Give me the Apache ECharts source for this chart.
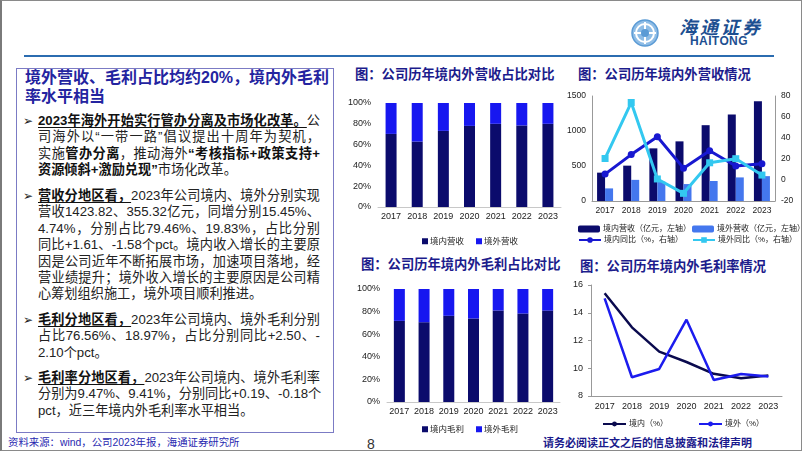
<!DOCTYPE html>
<html><head><meta charset="utf-8">
<script src="https://cdn.jsdelivr.net/npm/echarts/dist/echarts.min.js"></script>
<style>
html,body{margin:0;padding:0;background:#fff;}
#page{position:relative;width:802px;height:452px;overflow:hidden;font-family:"Liberation Sans","Noto Sans CJK SC",sans-serif;color:#222;}
#frame{position:absolute;left:0;top:0;width:799px;height:449px;border:1px solid #8a8a8a;border-left:2px solid #7a7a7a;}
.abs{position:absolute;white-space:nowrap;}
.ln{position:absolute;left:38px;font-size:13.2px;line-height:16px;height:16px;white-space:nowrap;color:#222;}
.j{width:282px;text-align:justify;text-align-last:justify;}
.bu{position:absolute;left:23px;font-size:12px;line-height:16px;font-family:"DejaVu Sans",sans-serif;color:#222;}
b{font-weight:bold;color:#111;}
.u{text-decoration:underline;text-underline-offset:2px;}
.ttl{position:absolute;font-size:13.3px;font-weight:bold;color:#1c1c8c;white-space:nowrap;line-height:16px;}
.chart{position:absolute;}
</style></head>
<body><div id="page">
<div id="frame"></div>
<!-- header -->
<svg class="abs" style="left:630px;top:18px" width="30" height="30" viewBox="0 0 30 30">
  <circle cx="15" cy="15" r="13" fill="#8fbde6" stroke="#5b9bd5" stroke-width="1.5"/>
  <circle cx="15" cy="15" r="9" fill="none" stroke="#ffffff" stroke-width="2"/>
  <path d="M15 4 V26 M4 15 H26" stroke="#ffffff" stroke-width="2"/>
  <circle cx="15" cy="15" r="4" fill="#5b9bd5"/>
</svg>
<div class="abs" style="left:679px;top:17px;font-size:18px;font-weight:bold;font-style:italic;color:#1d4f91;letter-spacing:3px;line-height:22px">海通证券</div>
<div class="abs" style="left:690px;top:35px;font-size:12px;font-weight:bold;color:#1d4f91;letter-spacing:0.4px;line-height:13px">HAITONG</div>
<div class="abs" style="left:24px;top:55px;width:750px;height:2px;background:#2b6cb0"></div>

<!-- left panel -->
<div class="abs" style="left:16px;top:68px;width:316px;height:363px;border:1px solid #7b7bc4"></div>
<div class="abs" style="left:25px;top:68px;width:293px;font-size:16px;font-weight:bold;color:#2424a0;line-height:20px;text-align:justify;text-align-last:justify">境外营收、毛利占比均约20%，境内外毛利</div>
<div class="abs" style="left:25px;top:87px;font-size:16px;font-weight:bold;color:#2424a0;line-height:20px">率水平相当</div>
<div id="txt"></div>

<!-- chart titles -->
<div class="ttl" style="left:355px;top:67px">图：公司历年境内外营收占比对比</div>
<div class="ttl" style="left:578px;top:67px">图：公司历年境内外营收情况</div>
<div class="ttl" style="left:361px;top:257px">图：公司历年境内外毛利占比对比</div>
<div class="ttl" style="left:580px;top:259px">图：公司历年境内外毛利率情况</div>

<div id="c1" class="chart" style="left:340px;top:60px;width:225px;height:190px"></div>
<div id="c2" class="chart" style="left:560px;top:60px;width:242px;height:190px"></div>
<div id="c3" class="chart" style="left:340px;top:250px;width:225px;height:185px"></div>
<div id="c4" class="chart" style="left:560px;top:250px;width:242px;height:185px"></div>

<!-- footer -->
<div class="abs" style="left:8px;top:436px;font-size:10.4px;color:#2828b0;line-height:14px">资料来源：wind，公司2023年报，海通证券研究所</div>
<div class="abs" style="left:367px;top:436px;font-size:14px;color:#333;line-height:16px">8</div>
<div class="abs" style="left:543px;top:436px;font-size:11px;font-weight:bold;color:#1a1a8c;line-height:14px">请务必阅读正文之后的信息披露和法律声明</div>
</div>
<script>
// ---------- data ----------
const years = ['2017','2018','2019','2020','2021','2022','2023'];
const revShareDomestic = [70.3, 62.9, 73.2, 78.0, 80.0, 78.4, 80.0];
const revShareOverseas = [29.7, 37.1, 26.8, 22.0, 20.0, 21.6, 20.0];
const revDomestic = [405, 505, 752, 852, 1083, 1234, 1424];
const revOverseas = [180, 302, 276, 242, 286, 337, 355];
const yoyDomestic = [5.6, 24.2, 41.2, 11.3, 27.8, 13.4, 15.5];
const yoyOverseas = [20.5, 73.8, 1.0, -12.7, 16.4, 20.3, 4.7];
const gpShareDomestic = [71.8, 70.6, 76.3, 73.9, 81.0, 78.3, 80.9];
const gpShareOverseas = [28.2, 29.4, 23.7, 26.1, 19.0, 21.7, 19.1];
const marginDomestic = [15.4, 12.95, 11.2, 10.45, 9.6, 9.28, 9.47];
const marginOverseas = [15.04, 9.35, 9.95, 13.5, 9.15, 9.59, 9.41];
const pctTicks = '{value}%';

// ---------- left panel text ----------
const bullets = [
  {y:121, lines:[
    ['<b class="u">2023年海外开始实行管办分离及市场化改革。</b>公', true],
    ['司海外以“一带一路”倡议提出十周年为契机，', true],
    ['实施<b>管办分离</b>，推动海外<b>“考核指标+政策支持+</b>', true],
    ['<b>资源倾斜+激励兑现”</b>市场化改革。', false]]},
  {y:196, lines:[
    ['<b class="u">营收分地区看，</b>2023年公司境内、境外分别实现', true],
    ['营收1423.82、355.32亿元，同增分别15.45%、', true],
    ['4.74%，分别占比79.46%、19.83%，占比分别', true],
    ['同比+1.61、-1.58个pct。境内收入增长的主要原', true],
    ['因是公司近年不断拓展市场，加速项目落地，经', true],
    ['营业绩提升；境外收入增长的主要原因是公司精', true],
    ['心筹划组织施工，境外项目顺利推进。', false]]},
  {y:320, lines:[
    ['<b class="u">毛利分地区看，</b>2023年公司境内、境外毛利分别', true],
    ['占比76.56%、18.97%，占比分别同比+2.50、-', true],
    ['2.10个pct。', false]]},
  {y:378, lines:[
    ['<b class="u">毛利率分地区看，</b>2023年公司境内、境外毛利率', true],
    ['分别为9.47%、9.41%，分别同比+0.19、-0.18个', true],
    ['pct，近三年境内外毛利率水平相当。', false]]}
];
let html = '';
bullets.forEach(b => {
  html += '<div class="bu" style="top:' + (b.y - 8) + 'px">➢</div>';
  b.lines.forEach((l, i) => {
    const y = b.y + i * 16.4;
    html += '<div class="ln' + (l[1] ? ' j' : '') + '" style="top:' + (y - 8).toFixed(1) + 'px">' + l[0] + '</div>';
  });
});
document.getElementById('txt').innerHTML = html;

// ---------- charts ----------
const FONT = '"Liberation Sans","Noto Sans CJK SC",sans-serif';
const DARK = '#0b0b6c';
const BLUE = '#1717f0';
const lbl = {fontSize: 9, color: '#222', fontFamily: FONT};
const plain = v => String(v);

function shareChart(id, grid, legendPos, names, dom, ovs) {
  const c = echarts.init(document.getElementById(id));
  c.setOption({
    animation: false,
    textStyle: {fontFamily: FONT},
    grid: grid,
    legend: {left: legendPos[0], top: legendPos[1], icon: 'rect', itemWidth: 6, itemHeight: 6, itemGap: 12,
      textStyle: {fontSize: 8.5, color: '#222', padding: [0, 0, 0, -3]}, data: names},
    xAxis: {type: 'category', data: years, axisLine: {lineStyle: {color: '#c8c8c8'}}, axisTick: {show: false},
      axisLabel: Object.assign({margin: 5, interval: 0}, lbl)},
    yAxis: {type: 'value', min: 0, max: 100, interval: 20, splitLine: {show: false}, axisLine: {show: false},
      axisLabel: Object.assign({formatter: pctTicks, margin: 7}, lbl)},
    series: [
      {name: names[0], type: 'bar', stack: 's', barWidth: 11, data: dom, itemStyle: {color: DARK}},
      {name: names[1], type: 'bar', stack: 's', barWidth: 11, data: ovs, itemStyle: {color: BLUE}}
    ]
  });
}
shareChart('c1', {left: 38, top: 43, width: 183, height: 104}, [77, 172], ['境内营收', '境外营收'], revShareDomestic, revShareOverseas);
shareChart('c3', {left: 47, top: 39, width: 173, height: 113}, [77, 170], ['境内毛利', '境外毛利'], gpShareDomestic, gpShareOverseas);

// chart 2
(function () {
  const c = echarts.init(document.getElementById('c2'));
  const lt = {fontSize: 8, color: '#222', padding: [0, 0, 0, -2]};
  const lg = (name, left, top) => ({left: left, top: top, itemWidth: 22, itemHeight: 7, textStyle: lt, data: [name]});
  c.setOption({
    animation: false,
    textStyle: {fontFamily: FONT},
    grid: {left: 32, top: 36, width: 183, height: 105},
    legend: [
      lg('境内营收（亿元，左轴）', 13, 160),
      lg('境外营收（亿元，左轴）', 127, 160),
      lg('境内同比（%，右轴）', 13, 171),
      lg('境外同比（%，右轴）', 127, 171)
    ],
    xAxis: {type: 'category', data: years, axisLine: {lineStyle: {color: '#999'}}, axisTick: {length: 3, lineStyle: {color: '#999'}},
      axisLabel: {fontSize: 8.5, color: '#222', margin: 5, interval: 0}},
    yAxis: [
      {type: 'value', min: 0, max: 1500, interval: 500, splitLine: {show: false},
        axisLine: {show: true, lineStyle: {color: '#999'}}, axisTick: {show: false},
        axisLabel: {fontSize: 8.5, color: '#222', margin: 6, formatter: plain}},
      {type: 'value', min: -20, max: 80, interval: 20, splitLine: {show: false}, position: 'right',
        axisLine: {show: true, lineStyle: {color: '#999'}}, axisTick: {show: false},
        axisLabel: {fontSize: 8.5, color: '#222', margin: 6, formatter: plain}}
    ],
    series: [
      {name: '境内营收（亿元，左轴）', type: 'bar', barWidth: 8, barGap: '0%', data: revDomestic, itemStyle: {color: DARK}},
      {name: '境外营收（亿元，左轴）', type: 'bar', barWidth: 8, barGap: '0%', data: revOverseas, itemStyle: {color: '#4477ee'}},
      {name: '境内同比（%，右轴）', type: 'line', yAxisIndex: 1, data: yoyDomestic, symbol: 'circle', symbolSize: 7,
        lineStyle: {width: 3, color: '#1818d0'}, itemStyle: {color: '#1818d0'}},
      {name: '境外同比（%，右轴）', type: 'line', yAxisIndex: 1, data: yoyOverseas, symbol: 'rect', symbolSize: 7,
        lineStyle: {width: 3, color: '#33c8f0'}, itemStyle: {color: '#33c8f0'}}
    ]
  });
})();

// chart 4
(function () {
  const c = echarts.init(document.getElementById('c4'));
  const lt = {fontSize: 8, color: '#222', padding: [0, 0, 0, -2]};
  c.setOption({
    animation: false,
    textStyle: {fontFamily: FONT},
    grid: {left: 31, top: 35, width: 191, height: 111},
    legend: [
      {left: 37, top: 165, itemWidth: 23, itemHeight: 6, textStyle: lt, data: ['境内（%）']},
      {left: 133, top: 165, itemWidth: 23, itemHeight: 6, textStyle: lt, data: ['境外（%）']}
    ],
    xAxis: {type: 'category', data: years, boundaryGap: true, axisLine: {lineStyle: {color: '#999'}},
      axisTick: {length: 3, lineStyle: {color: '#999'}}, axisLabel: Object.assign({margin: 6, interval: 0}, lbl)},
    yAxis: {type: 'value', min: 8, max: 16, interval: 2, splitLine: {show: false},
      axisLine: {show: true, lineStyle: {color: '#999'}}, axisTick: {show: true, length: 3, lineStyle: {color: '#999'}},
      axisLabel: Object.assign({margin: 8}, lbl)},
    series: [
      {name: '境内（%）', type: 'line', data: marginDomestic, symbol: 'none', lineStyle: {width: 2.5, color: '#0a0a4e'}, itemStyle: {color: '#0a0a4e'}},
      {name: '境外（%）', type: 'line', data: marginOverseas, symbol: 'none', lineStyle: {width: 2.5, color: '#1c1cee'}, itemStyle: {color: '#1c1cee'}}
    ]
  });
})();
</script>
</body></html>
